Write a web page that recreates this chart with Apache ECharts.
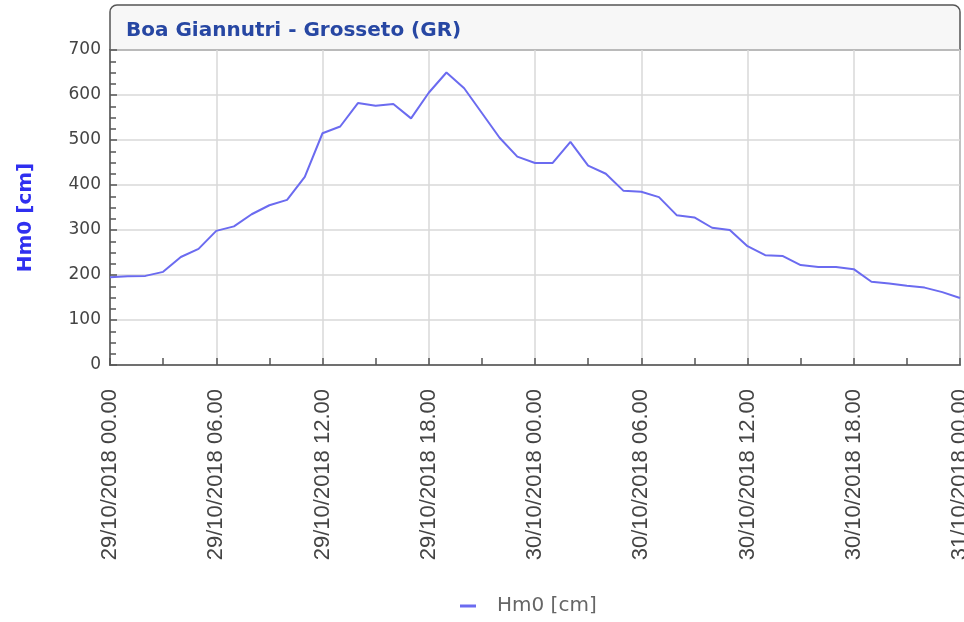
<!DOCTYPE html>
<html lang="it">
<head>
    <meta charset="UTF-8">
    <title>Boa Giannutri - Grosseto (GR)</title>
    <script src="https://cdn.jsdelivr.net/npm/echarts@6/dist/echarts.min.js"></script>
    <style>
        html, body { margin: 0; padding: 0; background: #fff; }
    </style>
</head>
<body>
<div id="chart" style="width: 964px;height:622px"></div>
<script>
    // ore dal 29/10/2018 00.00 al 31/10/2018 00.00, una ogni ora
    var times = [];
    var days = ['29/10/2018', '30/10/2018', '31/10/2018'];
    for (var d = 0; d < days.length; d++) {
        for (var h = 0; h < 24; h++) {
            if (d == 2 && h > 0) break;
            times.push(days[d] + ' ' + (h < 10 ? '0' + h : h) + '.00');
        }
    }

    // Hm0 [cm]
    var hm0 = [
        195, 197, 198, 207, 240, 258, 298, 308, 335, 355,
        367, 418, 515, 530, 582, 576, 580, 548, 605, 650,
        615, 560, 505, 463, 449, 449, 496, 443, 425, 387,
        385, 373, 333, 328, 305, 300, 264, 244, 242, 222,
        218, 218, 213, 185, 181, 176, 172, 162, 149
    ];

    var yTicks = [0, 700, 100];   // min, max, passo

    var lineColor = '#6b6bf0';
    var axisColor = '#555';

    var chart = echarts.init(document.getElementById('chart'));

    var option = {
        backgroundColor: '#fff',
        animation: false,
        title: {
            text: 'Boa Giannutri - Grosseto (GR)',
            left: 121,
            top: 16,
            textStyle: {
                fontFamily: 'DejaVu Sans',
                fontWeight: 'bold',
                fontSize: 20,
                color: '#2747a3'
            }
        },
        graphic: [{
            type: 'rect',
            z: -1,
            shape: { x: 110, y: 5, width: 850, height: 45, r: [7, 7, 0, 0] },
            style: { fill: '#f7f7f7', stroke: axisColor, lineWidth: 1.5 }
        }],
        legend: {
            left: 455,
            top: 591,
            icon: 'rect',
            itemWidth: 16,
            itemHeight: 3,
            textStyle: {
                fontFamily: 'DejaVu Sans',
                fontSize: 20,
                color: '#666',
                padding: [0, 0, 0, 16]
            },
            data: ['Hm0 [cm]']
        },
        grid: {
            left: 110,
            right: 4,
            top: 50,
            bottom: 257,
            outerBoundsMode: 'none',
            show: true,
            borderColor: axisColor,
            borderWidth: 1.5
        },
        xAxis: {
            type: 'category',
            boundaryGap: false,
            data: times,
            axisLine: { lineStyle: { color: axisColor, width: 1.5 } },
            axisTick: {
                inside: true,
                interval: 2,
                length: 7,
                lineStyle: { color: axisColor, width: 1.5 }
            },
            axisLabel: {
                interval: 5,
                rotate: 90,
                margin: 24,
                fontFamily: 'Liberation Sans',
                fontSize: 22,
                color: '#444'
            },
            splitLine: {
                show: true,
                interval: 5,
                lineStyle: { color: '#d9d9d9', width: 1.5 }
            }
        },
        yAxis: {
            type: 'value',
            min: yTicks[0],
            max: yTicks[1],
            interval: yTicks[2],
            name: 'Hm0 [cm]',
            nameLocation: 'middle',
            nameGap: 74,
            nameTextStyle: {
                fontFamily: 'DejaVu Sans',
                fontWeight: 'bold',
                fontSize: 20,
                color: '#2f2ff0',
                padding: [0, 20, 0, 0]
            },
            axisLine: { show: true, lineStyle: { color: axisColor, width: 1.5 } },
            axisTick: {
                show: true,
                inside: true,
                length: 7,
                lineStyle: { color: axisColor, width: 1.5 }
            },
            minorTick: {
                show: true,
                splitNumber: 4,
                length: 6,
                lineStyle: { color: axisColor, width: 1.5 }
            },
            axisLabel: {
                margin: 9,
                fontFamily: 'DejaVu Sans',
                fontSize: 17,
                color: '#444'
            },
            splitLine: {
                show: true,
                lineStyle: { color: '#d9d9d9', width: 1.5 }
            }
        },
        series: [{
            name: 'Hm0 [cm]',
            type: 'line',
            data: hm0,
            showSymbol: false,
            symbol: 'none',
            itemStyle: { color: lineColor },
            lineStyle: { color: lineColor, width: 2 }
        }]
    };
    chart.setOption(option);
</script>
</body>
</html>
